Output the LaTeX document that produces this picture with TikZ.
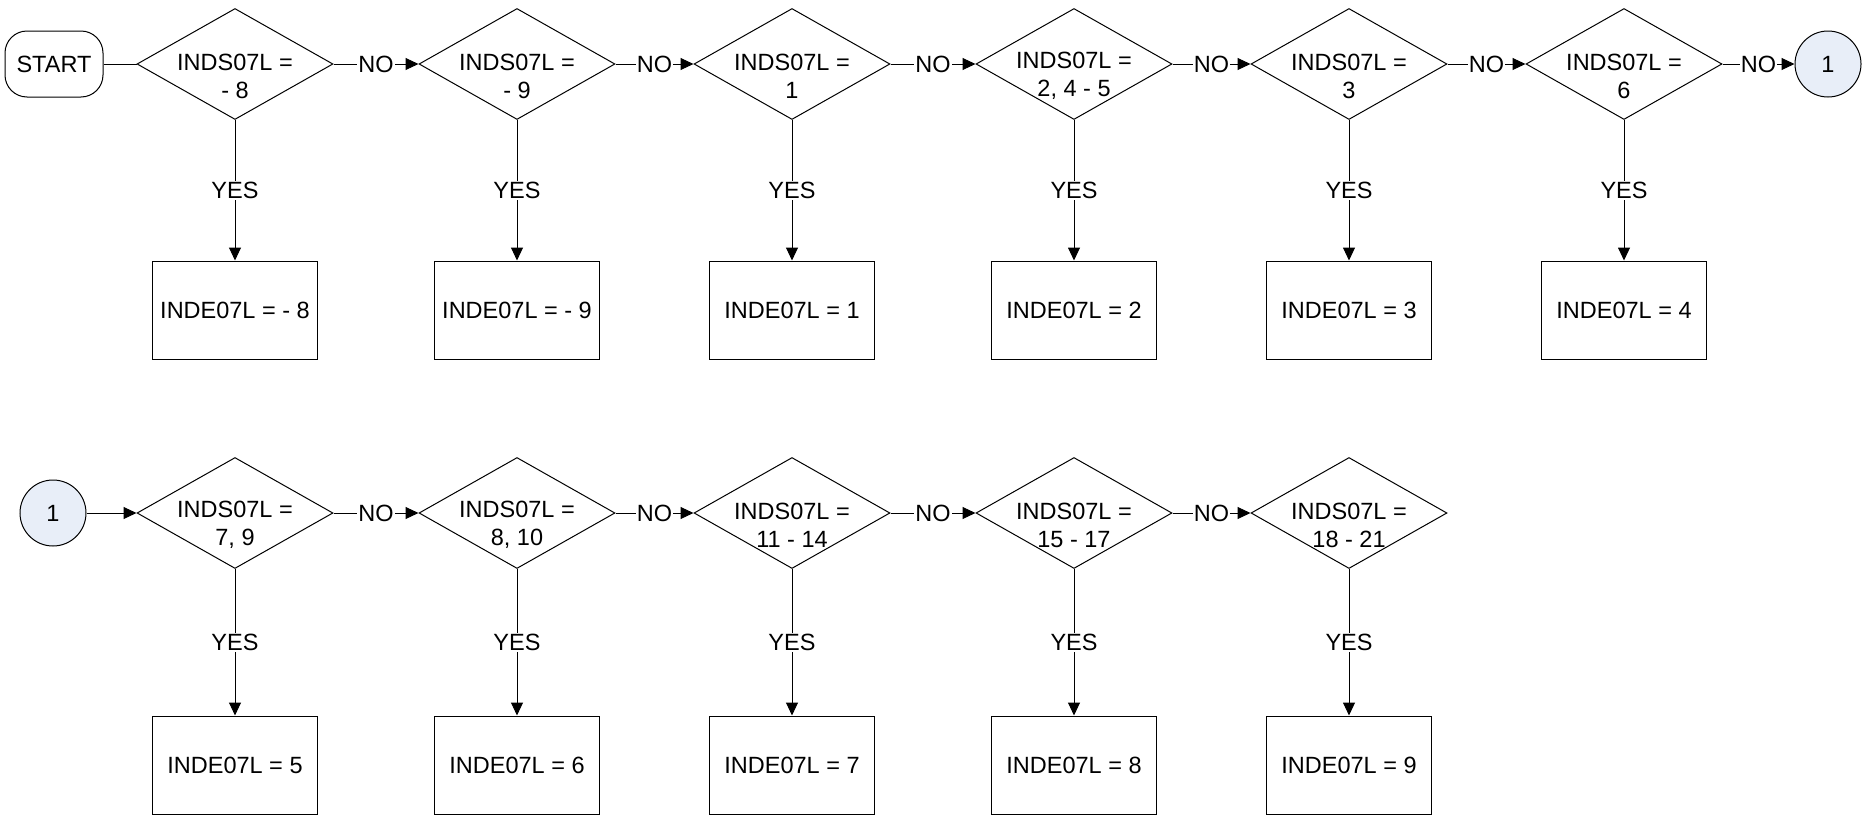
\documentclass[tikz,border=0pt]{standalone}
\usepackage{fontspec}
\setmainfont{Liberation Sans}
\usetikzlibrary{shapes.geometric,arrows.meta}
\definecolor{cfill}{RGB}{232,238,248}
\begin{document}
\begin{tikzpicture}[x=1pt,y=-1pt,line width=1pt,
  every node/.style={font=\fontsize{23.5}{28}\selectfont},
  dia/.style={diamond,draw,aspect=1.77,inner sep=0pt,minimum width=196pt,minimum height=111pt},
  dtxt/.style={align=center,inner sep=0pt,yshift=-12pt},
  box/.style={rectangle,draw,minimum width=165pt,minimum height=98pt,inner sep=0pt},
  term/.style={rectangle,draw,rounded corners=22pt,minimum width=98pt,minimum height=66pt,inner sep=0pt},
  conn/.style={circle,draw,fill=cfill,minimum size=66pt,inner sep=0pt},
  lbl/.style={fill=white,inner sep=1pt},
  arr/.style={-{Triangle[length=13pt,width=12pt]}}]
\useasboundingbox (0,0) rectangle (1865,822);
% row 1
\node[term] (start) at (54,64) {START};
\node[dia] (a1) at (235,64) {}; \node[dtxt] (ta1) at (a1.center) {INDS07L =\\- 8};
\node[dia] (a2) at (517,64) {}; \node[dtxt] (ta2) at (a2.center) {INDS07L =\\- 9};
\node[dia] (a3) at (792,64) {}; \node[dtxt] (ta3) at (a3.center) {INDS07L =\\1};
\node[dia] (a4) at (1074,64) {}; \node[dtxt] (ta4) at (a4.center) {INDS07L =\\2, 4 - 5};
\node[dia] (a5) at (1349,64) {}; \node[dtxt] (ta5) at (a5.center) {INDS07L =\\3};
\node[dia] (a6) at (1624,64) {}; \node[dtxt] (ta6) at (a6.center) {INDS07L =\\6};
\node[conn] (c1) at (1828,64) {1};
\node[box] (b1) at (235,310) {INDE07L = - 8};
\node[box] (b2) at (517,310) {INDE07L = - 9};
\node[box] (b3) at (792,310) {INDE07L = 1};
\node[box] (b4) at (1074,310) {INDE07L = 2};
\node[box] (b5) at (1349,310) {INDE07L = 3};
\node[box] (b6) at (1624,310) {INDE07L = 4};
\draw (start) -- (a1.west);
\draw[arr] (a1.east) -- node[lbl] {NO} (a2.west);
\draw[arr] (a2.east) -- node[lbl] {NO} (a3.west);
\draw[arr] (a3.east) -- node[lbl] {NO} (a4.west);
\draw[arr] (a4.east) -- node[lbl] {NO} (a5.west);
\draw[arr] (a5.east) -- node[lbl] {NO} (a6.west);
\draw[arr] (a6.east) -- node[lbl] {NO} (c1.west);
\foreach \i in {1,...,6} {\draw[arr] (a\i.south) -- node[lbl] {YES} (b\i.north);}
% row 2
\node[conn] (c2) at (53,513) {1};
\node[dia] (d1) at (235,513) {}; \node[dtxt] (td1) at (d1.center) {INDS07L =\\7, 9};
\node[dia] (d2) at (517,513) {}; \node[dtxt] (td2) at (d2.center) {INDS07L =\\8, 10};
\node[dia] (d3) at (792,513) {}; \node[dtxt] (td3) at (d3.center) {INDS07L =\\11 - 14};
\node[dia] (d4) at (1074,513) {}; \node[dtxt] (td4) at (d4.center) {INDS07L =\\15 - 17};
\node[dia] (d5) at (1349,513) {}; \node[dtxt] (td5) at (d5.center) {INDS07L =\\18 - 21};
\node[box] (e1) at (235,765) {INDE07L = 5};
\node[box] (e2) at (517,765) {INDE07L = 6};
\node[box] (e3) at (792,765) {INDE07L = 7};
\node[box] (e4) at (1074,765) {INDE07L = 8};
\node[box] (e5) at (1349,765) {INDE07L = 9};
\draw[arr] (c2.east) -- (d1.west);
\draw[arr] (d1.east) -- node[lbl] {NO} (d2.west);
\draw[arr] (d2.east) -- node[lbl] {NO} (d3.west);
\draw[arr] (d3.east) -- node[lbl] {NO} (d4.west);
\draw[arr] (d4.east) -- node[lbl] {NO} (d5.west);
\foreach \i in {1,...,5} {\draw[arr] (d\i.south) -- node[lbl] {YES} (e\i.north);}
\end{tikzpicture}
\end{document}
